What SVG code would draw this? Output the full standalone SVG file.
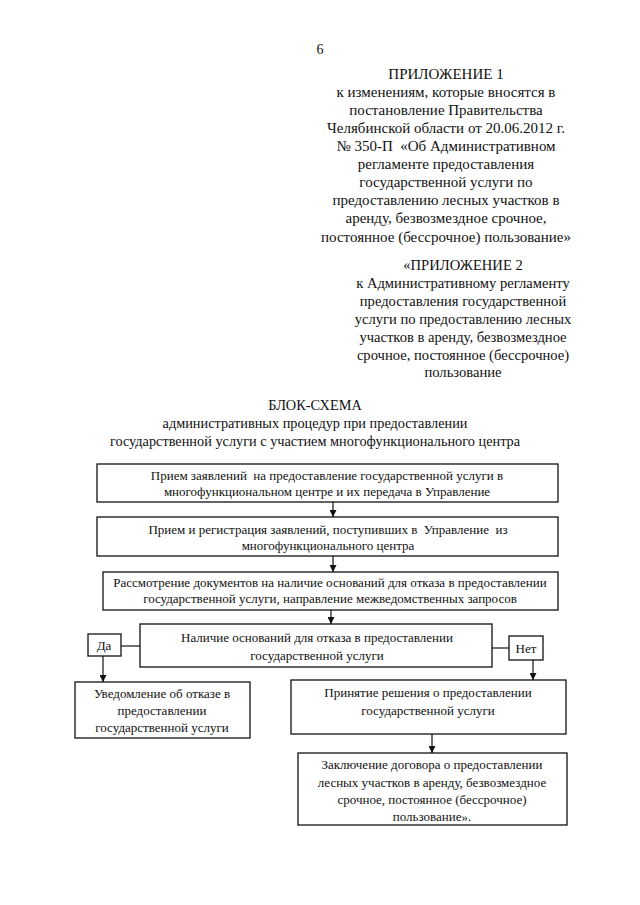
<svg xmlns="http://www.w3.org/2000/svg" width="640" height="905" viewBox="0 0 640 905">
<defs>
<style>
text{font-family:"Liberation Serif","Times New Roman",serif;fill:#111;white-space:pre;}
.h{font-size:14.3px;text-anchor:middle;}
.h1{font-size:15px;text-anchor:middle;}
.h2{font-size:14.6px;text-anchor:middle;}
.b{font-size:13px;text-anchor:middle;}
.box{fill:#fff;stroke:#111;stroke-width:1.3;}
.ln{stroke:#111;stroke-width:1.2;fill:none;}
</style>
<marker id="ah" viewBox="0 0 8 8" refX="8" refY="4" markerWidth="8" markerHeight="7" orient="auto" markerUnits="userSpaceOnUse">
<path d="M0,0 L8,4 L0,8 Z" fill="#111"/>
</marker>
</defs>
<rect width="640" height="905" fill="#fff"/>
<text class="h" x="320" y="54" style="font-size:14px">6</text>
<g id="header1">
<text class="h1" x="446" y="79">ПРИЛОЖЕНИЕ 1</text>
<text class="h1" x="446" y="97">к изменениям, которые вносятся в</text>
<text class="h1" x="446" y="115">постановление Правительства</text>
<text class="h1" x="446" y="133">Челябинской области от 20.06.2012 г.</text>
<text class="h1" x="446" y="151" xml:space="preserve">№ 350-П  «Об Административном</text>
<text class="h1" x="446" y="169">регламенте предоставления</text>
<text class="h1" x="446" y="187">государственной услуги по</text>
<text class="h1" x="446" y="205">предоставлению лесных участков в</text>
<text class="h1" x="446" y="223">аренду, безвозмездное срочное,</text>
<text class="h1" x="446" y="242">постоянное (бессрочное) пользование»</text>
</g>
<g id="header2">
<text class="h2" x="463" y="270">«ПРИЛОЖЕНИЕ 2</text>
<text class="h2" x="463" y="288">к Административному регламенту</text>
<text class="h2" x="463" y="306">предоставления государственной</text>
<text class="h2" x="463" y="324">услуги по предоставлению лесных</text>
<text class="h2" x="463" y="342">участков в аренду, безвозмездное</text>
<text class="h2" x="463" y="360">срочное, постоянное (бессрочное)</text>
<text class="h2" x="463" y="377">пользование</text>
</g>
<g id="title">
<text class="h" x="315" y="410">БЛОК-СХЕМА</text>
<text class="h" x="315" y="428">административных процедур при предоставлении</text>
<text class="h" x="315" y="446">государственной услуги с участием многофункционального центра</text>
</g>
<g id="connectors">
<line class="ln" x1="333" y1="502" x2="333" y2="517" marker-end="url(#ah)"/>
<line class="ln" x1="333" y1="556" x2="333" y2="572" marker-end="url(#ah)"/>
<line class="ln" x1="331" y1="610" x2="331" y2="624" marker-end="url(#ah)"/>
<line class="ln" x1="121" y1="646" x2="140" y2="646"/>
<line class="ln" x1="492" y1="648" x2="509" y2="648"/>
<line class="ln" x1="103" y1="656" x2="103" y2="682" marker-end="url(#ah)"/>
<line class="ln" x1="533" y1="660" x2="533" y2="680" marker-end="url(#ah)"/>
<line class="ln" x1="432" y1="734" x2="432" y2="753" marker-end="url(#ah)"/>
</g>
<g id="n1">
<rect class="box" x="97" y="464" width="461" height="38"/>
<text class="b" x="327" y="480" xml:space="preserve">Прием заявлений  на предоставление государственной услуги в</text>
<text class="b" x="327" y="496">многофункциональном центре и их передача в Управление</text>
</g>
<g id="n2">
<rect class="box" x="97" y="517" width="461" height="39"/>
<text class="b" x="328" y="534" xml:space="preserve">Прием и регистрация заявлений, поступивших в  Управление  из</text>
<text class="b" x="328" y="550">многофункционального центра</text>
</g>
<g id="n3">
<rect class="box" x="103" y="572" width="455" height="38"/>
<text class="b" x="330" y="587">Рассмотрение документов на наличие оснований для отказа в предоставлении</text>
<text class="b" x="330" y="603">государственной услуги, направление межведомственных запросов</text>
</g>
<g id="n4">
<rect class="box" x="140" y="624" width="352" height="43"/>
<text class="b" x="317" y="642">Наличие оснований для отказа в предоставлении</text>
<text class="b" x="317" y="660">государственной услуги</text>
</g>
<g id="da">
<rect class="box" x="88" y="634" width="33" height="22"/>
<text class="b" x="104" y="650">Да</text>
</g>
<g id="net">
<rect class="box" x="509" y="636" width="34" height="24"/>
<text class="b" x="526" y="653">Нет</text>
</g>
<g id="n5">
<rect class="box" x="75" y="682" width="175" height="56"/>
<text class="b" x="162" y="698">Уведомление об отказе в</text>
<text class="b" x="162" y="715">предоставлении</text>
<text class="b" x="162" y="732">государственной услуги</text>
</g>
<g id="n6">
<rect class="box" x="291" y="680" width="275" height="54"/>
<text class="b" x="428" y="697">Принятие решения о предоставлении</text>
<text class="b" x="428" y="715">государственной услуги</text>
</g>
<g id="n7">
<rect class="box" x="298" y="753" width="269" height="72"/>
<text class="b" x="432" y="769">Заключение договора о предоставлении</text>
<text class="b" x="432" y="787">лесных участков в аренду, безвозмездное</text>
<text class="b" x="432" y="804">срочное, постоянное (бессрочное)</text>
<text class="b" x="432" y="821">пользование».</text>
</g>
</svg>
